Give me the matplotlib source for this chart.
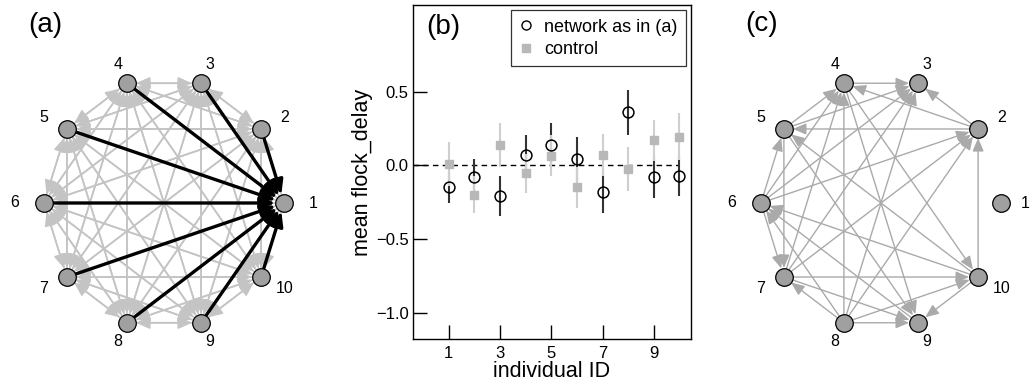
import numpy as np
import matplotlib.pyplot as plt
from matplotlib.patches import FancyArrowPatch
from matplotlib.lines import Line2D

plt.rcParams['font.family'] = ['Liberation Sans', 'DejaVu Sans']

# -----------------------------
# DATA
# -----------------------------
node_ids = [1, 2, 3, 4, 5, 6, 7, 8, 9, 10]
leader = 1

# network (c): directed edges (source, target), node 1 isolated
edges_c = [(2, 3), (2, 4), (2, 5), (10, 2), (6, 2), (7, 2), (8, 2),
           (4, 3), (5, 3), (6, 3), (7, 3), (8, 3),
           (5, 4), (6, 4), (7, 4), (8, 4),
           (6, 5), (10, 5),
           (5, 7), (6, 7), (8, 7),
           (10, 6), (9, 6), (8, 6),
           (7, 9), (8, 9), (10, 9), (4, 9), (5, 9),
           (7, 10), (8, 10), (4, 10)]

# panel (b)
ind_id = [1, 2, 3, 4, 5, 6, 7, 8, 9, 10]
net_mean = [-0.15, -0.08, -0.21, 0.07, 0.14, 0.04, -0.18, 0.36, -0.08, -0.07]
net_err = [0.105, 0.12, 0.135, 0.135, 0.15, 0.155, 0.145, 0.155, 0.14, 0.14]
ctl_mean = [0.01, -0.20, 0.14, -0.055, 0.065, -0.15, 0.07, -0.025, 0.17, 0.195]
ctl_err = [0.15, 0.125, 0.15, 0.13, 0.14, 0.14, 0.14, 0.15, 0.14, 0.16]

W, H = 1032, 385
fig = plt.figure(figsize=(W / 100, H / 100), dpi=100)

# circle layout, node 1 on the right, counter-clockwise
ang = np.deg2rad((np.array(node_ids) - 1) * 36.0)
pos = {n: (np.cos(a), np.sin(a)) for n, a in zip(node_ids, ang)}


def draw_edges(ax, edges, color, lw, hl, hw, z):
    for s, t in edges:
        arr = FancyArrowPatch(pos[s], pos[t],
                              arrowstyle=f'-|>,head_length={hl},head_width={hw}',
                              shrinkA=6.5, shrinkB=6.5, mutation_scale=1,
                              lw=lw, color=color, zorder=z)
        ax.add_patch(arr)


def draw_nodes(ax, lab_x=1.24):
    xs = [pos[n][0] for n in node_ids]
    ys = [pos[n][1] for n in node_ids]
    ax.scatter(xs, ys, s=160, c='#a0a0a0', edgecolors='black',
               linewidths=0.9, zorder=10)
    for n, a in zip(node_ids, ang):
        fx = lab_x if n == leader else 1.24
        ax.text(fx * np.cos(a), 1.16 * np.sin(a), str(n), fontsize=11.5,
                ha='center', va='center', clip_on=False)


def net_axes(cx):
    ax = fig.add_axes([(cx - 160) / W, 12 / H, 320 / W, 340 / H])
    ax.set_xlim(-1.333, 1.333)
    ax.set_ylim(-1.35, 1.35)
    ax.axis('off')
    return ax


# -----------------------------
# (a) full network, links to 1 in black
# -----------------------------
ax_a = net_axes(164)
gray_a = [(s, t) for s in node_ids for t in node_ids if s != t and t != leader]
black_a = [(s, leader) for s in node_ids if s != leader]
draw_edges(ax_a, gray_a, '#c4c4c4', 1.2, 8.5, 3.8, 1)
draw_edges(ax_a, black_a, 'black', 2.4, 8.5, 3.8, 2)
draw_nodes(ax_a)

# -----------------------------
# (c) control network
# -----------------------------
ax_c = net_axes(881)
draw_edges(ax_c, edges_c, '#aaaaaa', 1.0, 8, 3.4, 1)
draw_nodes(ax_c, lab_x=1.2)

# -----------------------------
# (b) mean flock delay
# -----------------------------
ax_b = fig.add_axes([413 / W, 46 / H, 278 / W, 334 / H])
ax_b.errorbar(ind_id, net_mean, yerr=net_err, fmt='none', ecolor='#333333',
              elinewidth=1.5, zorder=2)
ax_b.errorbar(ind_id, ctl_mean, yerr=ctl_err, fmt='none', ecolor='#cfcfcf',
              elinewidth=1.5, zorder=3)
ax_b.plot(ind_id, ctl_mean, 's', color='#b8b8b8', ms=5.5, zorder=4)
ax_b.plot(ind_id, net_mean, 'o', mfc='none', mec='black', mew=1.1, ms=7.8,
          zorder=5)
ax_b.hlines(0, -0.4, 10, colors='black', linestyles=(0, (4, 3)), lw=1, zorder=1)

ax_b.set_xlim(-0.4, 10.45)
ax_b.set_ylim(-1.18, 1.09)
ax_b.set_xticks([1, 3, 5, 7, 9])
ax_b.set_yticks([0.5, 0.0, -0.5, -1.0])
ax_b.set_yticklabels(['0.5', '0.0', '\u22120.5', '\u22121.0'])
ax_b.tick_params(direction='in', length=10, width=1, labelsize=12)
ax_b.tick_params(axis='y', pad=3)
ax_b.tick_params(axis='x', pad=5)
for sp in ax_b.spines.values():
    sp.set_linewidth(1)
ax_b.set_xlabel('individual ID', fontsize=15.5, labelpad=0)
ax_b.set_ylabel('mean flock_delay', fontsize=15.5, labelpad=2)

handles = [Line2D([], [], ls='none', marker='o', mfc='none', mec='black',
                  mew=1, ms=6.5),
           Line2D([], [], ls='none', marker='s', color='#b8b8b8', ms=6)]
leg = ax_b.legend(handles, ['network as in (a)', 'control'], loc='upper right',
                  fontsize=13, frameon=True, fancybox=False,
                  borderaxespad=0.3, handlelength=0.8, handletextpad=0.6,
                  labelspacing=0.3, borderpad=0.45)
leg.get_frame().set_edgecolor('black')
leg.get_frame().set_linewidth(0.9)

# panel letters
fig.text(45 / W, 1 - 25 / H, '(a)', fontsize=20, ha='center', va='center')
fig.text(443 / W, 1 - 27 / H, '(b)', fontsize=20, ha='center', va='center')
fig.text(762 / W, 1 - 24 / H, '(c)', fontsize=20, ha='center', va='center')

fig.savefig('out.png', dpi=100)
